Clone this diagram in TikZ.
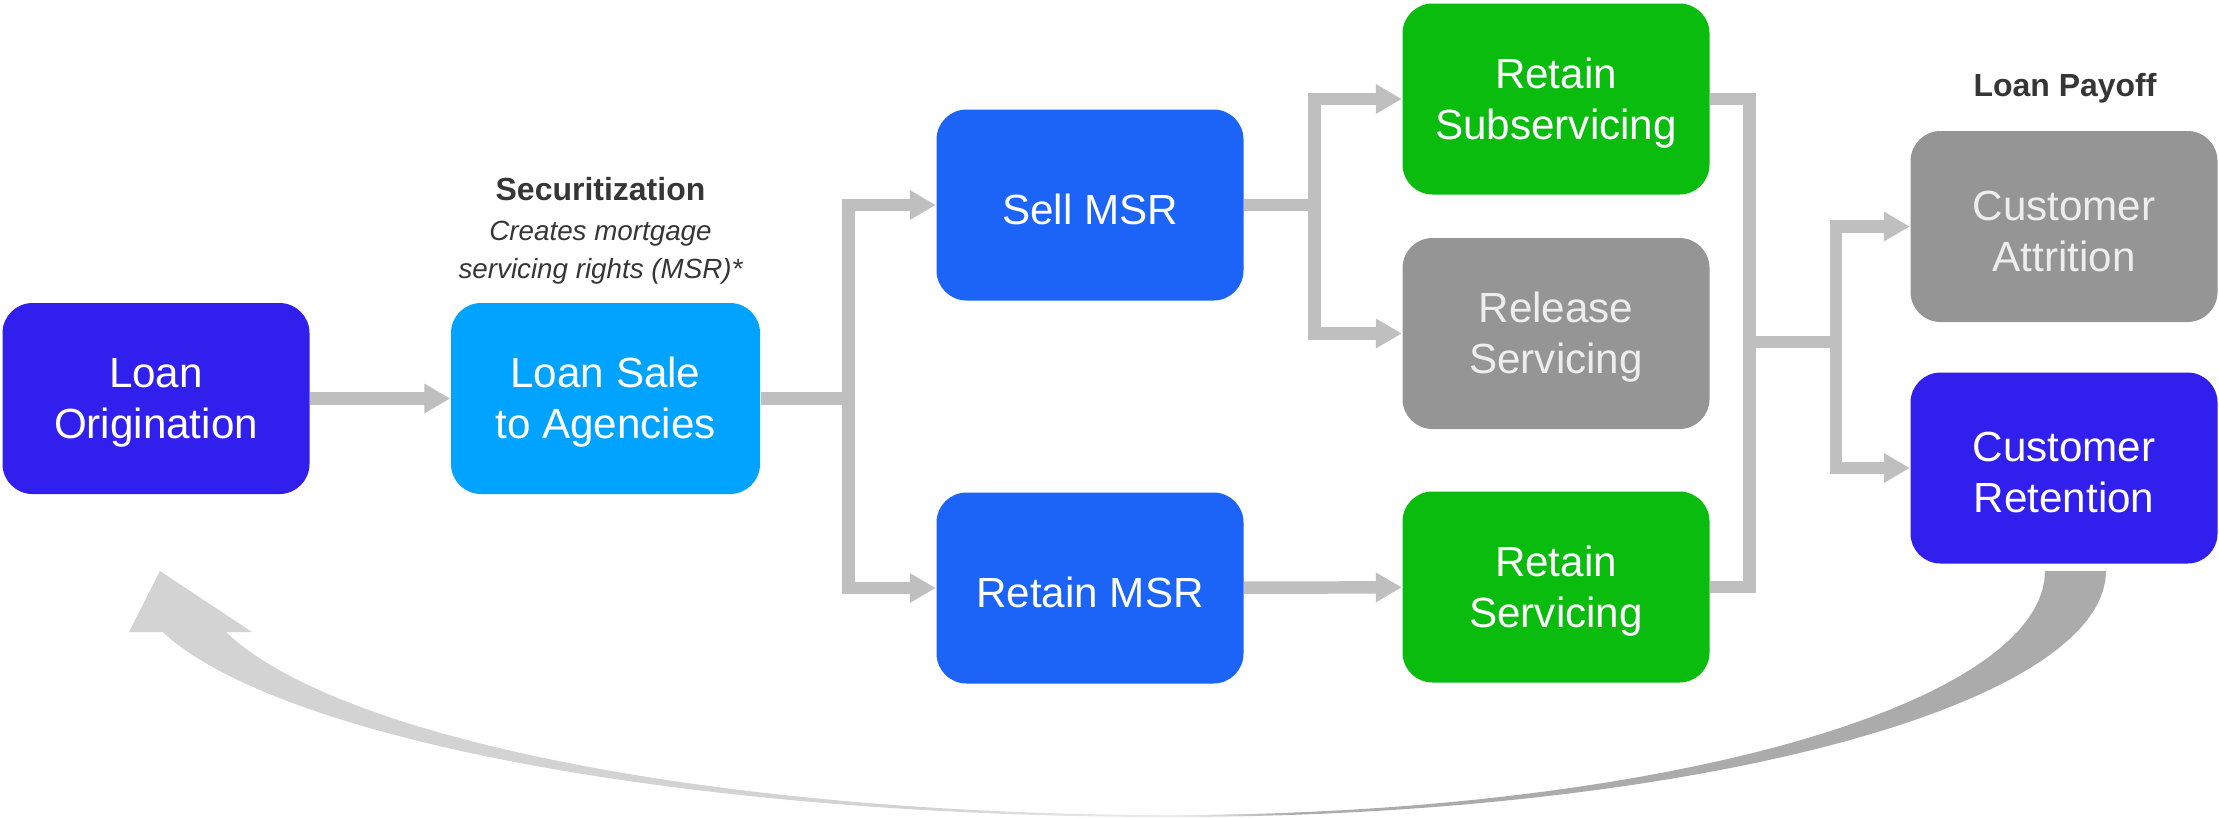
\documentclass[tikz,border=0pt]{standalone}
\usepackage{fontspec}
\setmainfont{Liberation Sans}
\usetikzlibrary{arrows.meta}

\definecolor{deepblue}{HTML}{3120ED}
\definecolor{skyblue}{HTML}{00A3FF}
\definecolor{msrblue}{HTML}{1C64F8}
\definecolor{keepgreen}{HTML}{09BC0E}
\definecolor{boxgray}{HTML}{959595}
\definecolor{linkgray}{HTML}{BFBFBF}
\definecolor{labeltext}{HTML}{363636}
\definecolor{looplight}{HTML}{D3D3D3}
\definecolor{loopmid}{HTML}{EDEDED}
\definecolor{loopdark}{HTML}{ABABAB}

% light on the left, dark on the right, pale where the band is thin
\pgfdeclarehorizontalshading{loopfade}{100bp}{color(0bp)=(looplight); color(45bp)=(looplight); color(51.5bp)=(loopmid); color(54.5bp)=(loopdark); color(100bp)=(loopdark)}

\begin{document}
\begin{tikzpicture}[x=0.1mm, y=-0.1mm,
    stage/.style={rectangle, rounded corners=3mm, minimum width=30.7mm, minimum height=19.1mm,
        inner sep=0pt, align=center, text=white, font=\fontsize{12}{14.5}\selectfont,
        text height=25.5pt},
    oneline/.style={text height=11.1pt},
    link/.style={draw=linkgray, line width=3.55pt},
    flow/.style={link, -{Triangle[length=2.6mm, width=2.8mm]}},
    heading/.style={font=\bfseries\fontsize{9.1}{11}\selectfont, text=labeltext}]
    \useasboundingbox (0,0) rectangle (2219,818);

    % stages
    \node[stage, fill=deepblue] (orig) at (156,398.5) {Loan\\Origination};
    \node[stage, fill=skyblue, minimum width=30.9mm] (sale) at (605.5,398.5) {Loan Sale\\to Agencies};
    \node[stage, oneline, fill=msrblue] (sell) at (1090,205) {Sell MSR};
    \node[stage, oneline, fill=msrblue] (keep) at (1090,588) {Retain MSR};
    \node[stage, fill=keepgreen] (subsvc) at (1556,99) {Retain\\Subservicing};
    \node[stage, fill=boxgray, text=white!93!black] (release) at (1556,333.5) {Release\\Servicing};
    \node[stage, fill=keepgreen] (retsvc) at (1556,587) {Retain\\Servicing};
    \node[stage, fill=boxgray, text=white!93!black] (attr) at (2064,226.5) {Customer\\Attrition};
    \node[stage, fill=deepblue] (reten) at (2064,468) {Customer\\Retention};

    % headings
    \node[heading, anchor=base] (secz) at (600.5,200) {Securitization};
    \node[font=\itshape\fontsize{7.9}{10.8}\selectfont, text=labeltext, align=center] (secznote)
        at (600.5,252.5) {Creates mortgage\\servicing rights (MSR)*};
    \node[heading, anchor=base] (payoff) at (2065,96) {Loan Payoff};

    % junctions
    \coordinate (j1) at (848.5,398.5);
    \coordinate (j2) at (1314.5,205);
    \coordinate (j3) at (1749.5,342);
    \coordinate (j4) at (1836,342);

    \draw[flow] (orig) -- (sale);
    \draw[link] (sale) -- (j1);
    \draw[flow] (j1) |- (sell);
    \draw[flow] (j1) |- (keep);
    \draw[link] (sell) -- (j2);
    \draw[flow] (j2) |- (subsvc);
    \draw[flow] (j2) |- (release);
    \draw[flow] (keep) -- (retsvc);
    \draw[link] (subsvc) -| (j3) |- (retsvc);
    \draw[link] (j3) -- (j4);
    \draw[flow] (j4) |- (attr);
    \draw[flow] (j4) |- (reten);

    % loop back from retention to origination
    \shade[shading=loopfade]
        plot[domain=0:90, samples=40] ({1170+936*cos(\x)}, {571+246*sin(\x)})
        -- plot[domain=90:165.64, samples=40] ({1170+1040*cos(\x)}, {571+246*sin(\x)})
        -- (129,632) -- (160,571) -- (252,632)
        -- plot[domain=165.52:90, samples=40] ({1170+975*cos(\x)}, {571+244*sin(\x)})
        -- plot[domain=90:0, samples=40] ({1170+875*cos(\x)}, {571+244*sin(\x)})
        -- cycle;
\end{tikzpicture}
\end{document}
